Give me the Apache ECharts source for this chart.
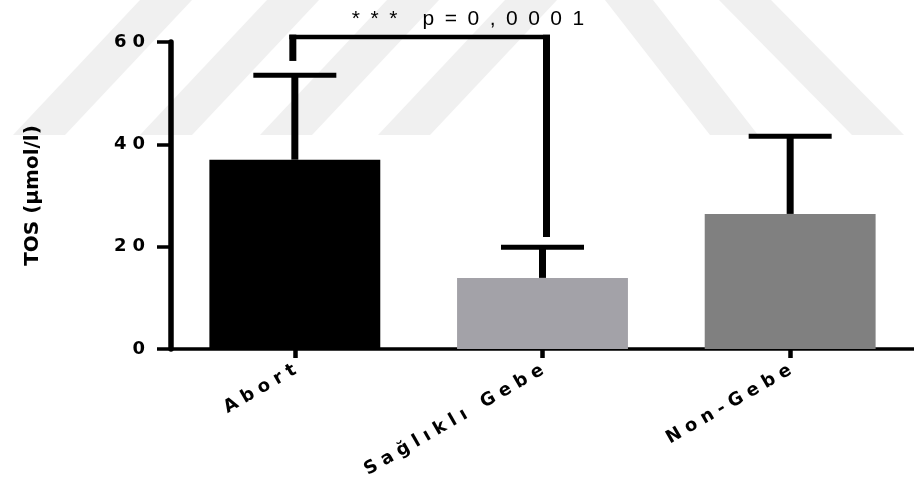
<!DOCTYPE html>
<html>
<head>
<meta charset="utf-8">
<script src="https://cdn.jsdelivr.net/npm/echarts@6/dist/echarts.min.js"></script>
<style>
  html, body { margin: 0; padding: 0; background: #fff; }
  #chart { width: 914px; height: 485px; }
</style>
</head>
<body>
<div id="chart"></div>
<script>
// Group names and TOS values (mean and upper SD)
const categories = ['Abort', 'Sağlıklı Gebe', 'Non-Gebe'];
const means = [37.0, 13.9, 26.4];
const sds = [16.5, 6.0, 15.2];
const barColors = ['#000000', '#a3a2a8', '#808080'];

// Y axis scale
const yMin = 0;
const yMax = 60;
const yStep = 20;

// Significance bracket between Abort and Sağlıklı Gebe
const bracketPair = [0, 1];
const bracketLevels = [61, 56.3, 21.9]; // top line, left foot, right foot
const pStars = '***';
const pText = 'p=0,0001';

const yName = 'TOS (µmol/l)';

// wide letter spacing, done with separator characters
function spread(s, sep) {
  return Array.from(s).join(sep);
}

const BOLD = 'DejaVu Sans';

// faint diagonal background stripes
const stripeColor = '#f0f0f0';
function stripe(bx, tx, w) {
  return {
    type: 'polygon', z: -10, silent: true,
    shape: { points: [[bx, 135], [bx + w, 135], [tx + w, 0], [tx, 0]] },
    style: { fill: stripeColor }
  };
}

const chart = echarts.init(document.getElementById('chart'));

const option = {
  animation: false,
  backgroundColor: '#ffffff',
  graphic: [
    stripe(13, 140, 52),
    stripe(140, 267, 52),
    stripe(260, 387, 52),
    stripe(378, 505, 52),
    stripe(710, 605, 48),
    stripe(852, 719, 52)
  ],
  grid: { left: 171, top: 42, bottom: 136, width: 750, containLabel: false },
  xAxis: {
    type: 'category',
    data: categories,
    boundaryGap: true,
    axisLine: { show: true, lineStyle: { color: '#000', width: 3.5 } },
    axisTick: { show: true, alignWithLabel: true, length: 9, lineStyle: { color: '#000', width: 4.5 } },
    axisLabel: {
      rotate: 30,
      margin: 20,
      interval: 0,
      color: '#000',
      fontFamily: BOLD,
      fontWeight: 'bold',
      fontSize: 18,
      formatter: v => spread(v, '\u2004')
    },
    splitLine: { show: false }
  },
  yAxis: {
    type: 'value',
    min: yMin,
    max: yMax,
    interval: yStep,
    name: yName,
    nameLocation: 'middle',
    nameGap: 128,
    nameRotate: 90,
    nameTextStyle: {
      color: '#000',
      fontFamily: BOLD,
      fontWeight: 'bold',
      fontSize: 20
    },
    axisLine: { show: true, lineStyle: { color: '#000', width: 5.5 } },
    axisTick: { show: true, length: 14, lineStyle: { color: '#000', width: 3.5 } },
    axisLabel: {
      margin: 26,
      color: '#000',
      fontFamily: BOLD,
      fontWeight: 'bold',
      fontSize: 18,
      formatter: v => spread(String(v), '\u2004')
    },
    splitLine: { show: false }
  },
  series: [
    {
      type: 'bar',
      barWidth: '69%',
      data: means.map((m, i) => ({ value: m, itemStyle: { color: barColors[i] } })),
      z: 2
    },
    {
      type: 'custom',
      z: 3,
      clip: false,
      data: means.map((m, i) => [i, m, sds[i]]),
      encode: { x: 0, y: 1 },
      renderItem: function (params, api) {
        const base = api.coord([api.value(0), api.value(1)]);
        const top = api.coord([api.value(0), api.value(1) + api.value(2)]);
        const x = base[0];
        return {
          type: 'group',
          children: [
            { type: 'rect', shape: { x: x - 3.5, y: top[1], width: 7, height: base[1] - top[1] }, style: { fill: '#000' } },
            { type: 'rect', shape: { x: x - 41.5, y: top[1] - 2.5, width: 83, height: 5 }, style: { fill: '#000' } }
          ]
        };
      }
    },
    {
      type: 'custom',
      z: 4,
      clip: false,
      data: [[bracketPair[0], bracketPair[1], bracketLevels[0], bracketLevels[1], bracketLevels[2]]],
      encode: { x: [0, 1], y: [2, 3, 4] },
      renderItem: function (params, api) {
        const a = api.coord([api.value(0), api.value(2)]);
        const b = api.coord([api.value(1), api.value(2)]);
        const aFoot = api.coord([api.value(0), api.value(3)]);
        const bFoot = api.coord([api.value(1), api.value(4)]);
        const xa = a[0] - 2;
        const xb = b[0] + 4;
        const yTop = a[1];
        return {
          type: 'group',
          children: [
            { type: 'rect', shape: { x: xa - 3.5, y: yTop - 2.25, width: 7, height: aFoot[1] - yTop + 2.25 }, style: { fill: '#000' } },
            { type: 'rect', shape: { x: xa - 3.5, y: yTop - 2.25, width: xb - xa + 7, height: 4.5 }, style: { fill: '#000' } },
            { type: 'rect', shape: { x: xb - 3.5, y: yTop - 2.25, width: 7, height: bFoot[1] - yTop + 2.25 }, style: { fill: '#000' } },
            {
              type: 'text',
              x: xa + 59,
              y: yTop - 18,
              style: {
                text: spread(pStars, '\u2002') + '\u2003\u2009' + spread(pText, '\u2002'),
                fill: '#000',
                font: '21px "Liberation Sans", Arial, sans-serif',
                align: 'left',
                verticalAlign: 'middle'
              }
            }
          ]
        };
      }
    }
  ]
};

chart.setOption(option);
</script>
</body>
</html>
